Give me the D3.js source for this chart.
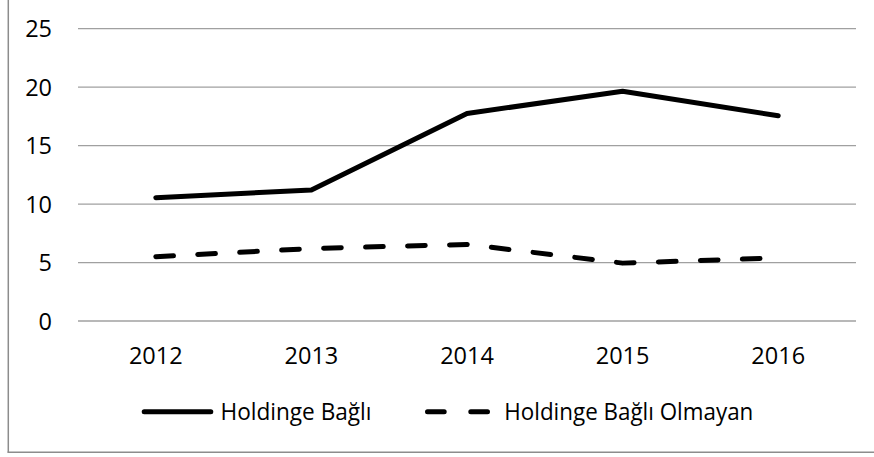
<!DOCTYPE html>
<html>
<head>
<meta charset="utf-8">
<script src="https://cdn.jsdelivr.net/npm/d3@7"></script>
<style>
  body { margin: 0; background: #fff; }
  svg { display: block; }
  text { font-family: "Open Sans", "Noto Sans", sans-serif; fill: #000; }
</style>
</head>
<body>
<svg id="chart" width="874" height="457"></svg>
<script>
const categories = ["2012", "2013", "2014", "2015", "2016"];
const holdingeBagli = [10.55, 11.2, 17.75, 19.65, 17.55];
const holdingeBagliOlmayan = [5.5, 6.2, 6.55, 4.95, 5.4];
const yTicks = [0, 5, 10, 15, 20, 25];
const seriesNames = ["Holdinge Bağlı", "Holdinge Bağlı Olmayan"];

(function () {
const svg = d3.select("#chart");
const pLeft = 78, pRight = 856, pTop = 28.7, pBottom = 321;
const fontSize = 23.5;

// outer frame (left and bottom edges visible)
svg.append("line").attr("x1", 8.3).attr("x2", 8.3).attr("y1", 0).attr("y2", 452.5)
  .attr("stroke", "#8c8c8c").attr("stroke-width", 1.5);
svg.append("line").attr("x1", 7.5).attr("x2", 874).attr("y1", 452.3).attr("y2", 452.3)
  .attr("stroke", "#8c8c8c").attr("stroke-width", 1.5);

const x = d3.scaleBand().domain(categories).range([pLeft, pRight]);
const y = d3.scaleLinear().domain([0, 25]).range([pBottom, pTop]);

// gridlines
svg.append("g").selectAll("line").data(yTicks).join("line")
  .attr("x1", pLeft).attr("x2", pRight)
  .attr("y1", d => y(d)).attr("y2", d => y(d))
  .attr("stroke", "#a0a0a0").attr("stroke-width", 1.3);

// y axis labels
const yAxis = d3.axisLeft(y).tickValues(yTicks).tickSize(0).tickPadding(0);
const gy = svg.append("g").attr("transform", `translate(52,0)`).call(yAxis);
gy.select(".domain").remove();
gy.selectAll("text").attr("font-size", fontSize).attr("font-family", "Open Sans, sans-serif")
  .attr("fill", "#000").attr("dy", "0.34em");

// x axis labels
const xAxis = d3.axisBottom(x).tickSize(0).tickPadding(0);
const gx = svg.append("g").attr("transform", `translate(0,0)`).call(xAxis);
gx.select(".domain").remove();
gx.selectAll("text").attr("font-size", fontSize).attr("font-family", "Open Sans, sans-serif")
  .attr("fill", "#000").attr("y", 364.3).attr("dy", 0);

const line = d3.line().x((d, i) => x(categories[i]) + x.bandwidth() / 2).y(d => y(d));

svg.append("path").datum(holdingeBagli).attr("d", line)
  .attr("fill", "none").attr("stroke", "#000").attr("stroke-width", 5)
  .attr("stroke-linecap", "round").attr("stroke-linejoin", "round");

svg.append("path").datum(holdingeBagliOlmayan).attr("d", line)
  .attr("fill", "none").attr("stroke", "#000").attr("stroke-width", 5)
  .attr("stroke-linecap", "round").attr("stroke-linejoin", "round")
  .attr("stroke-dasharray", "17.7,24.3");

// legend
const ly = 411.7, baseline = 420;
const legend = svg.append("g");
legend.append("line").attr("x1", 144.2).attr("x2", 210.8).attr("y1", ly).attr("y2", ly)
  .attr("stroke", "#000").attr("stroke-width", 5).attr("stroke-linecap", "round");
legend.append("text").attr("x", 220.5).attr("y", baseline)
  .attr("font-size", fontSize).attr("textLength", 151).attr("lengthAdjust", "spacingAndGlyphs")
  .text(seriesNames[0]);
legend.append("line").attr("x1", 427.5).attr("x2", 487.5).attr("y1", ly).attr("y2", ly)
  .attr("stroke", "#000").attr("stroke-width", 5).attr("stroke-linecap", "round")
  .attr("stroke-dasharray", "16.7,26.6");
legend.append("text").attr("x", 504.3).attr("y", baseline)
  .attr("font-size", fontSize).attr("textLength", 249).attr("lengthAdjust", "spacingAndGlyphs")
  .text(seriesNames[1]);
})();
</script>
</body>
</html>
